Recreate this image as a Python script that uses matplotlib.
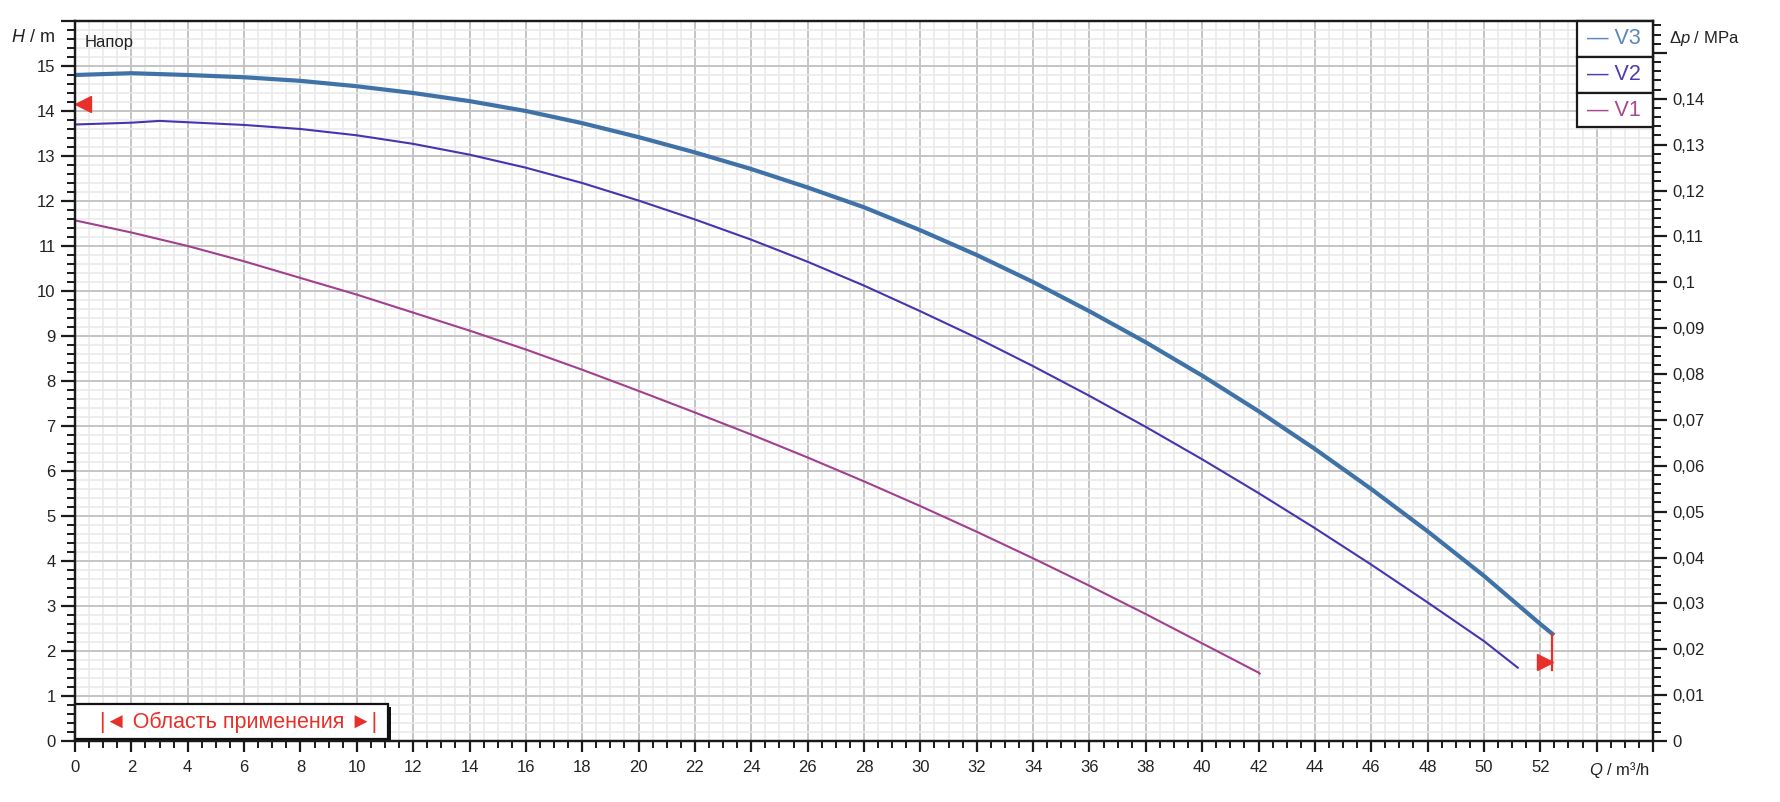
import numpy as np
import matplotlib
matplotlib.use("Agg")
import matplotlib.pyplot as plt
from matplotlib.patches import Rectangle
from matplotlib.ticker import MultipleLocator

plt.rcParams['font.family'] = ['Liberation Sans', 'DejaVu Sans']
plt.rcParams['mathtext.fontset'] = 'custom'
plt.rcParams['mathtext.it'] = 'Liberation Sans:italic'
plt.rcParams['mathtext.rm'] = 'Liberation Sans'

# ---- data (Q in m3/h, H in m) ----
q_v3 = [0, 2, 4, 6, 8, 10, 12, 14, 16, 18, 20, 22, 24, 26, 28, 30, 32, 34, 36,
        38, 40, 42, 44, 46, 48, 50, 52, 52.43]
h_v3 = [14.80, 14.84, 14.80, 14.75, 14.67, 14.55, 14.40, 14.22, 14.00, 13.73,
        13.42, 13.08, 12.71, 12.30, 11.86, 11.35, 10.80, 10.20, 9.55, 8.86,
        8.12, 7.33, 6.49, 5.60, 4.66, 3.67, 2.60, 2.38]

q_v2 = [0, 2, 3, 4, 6, 8, 10, 12, 14, 16, 18, 20, 22, 24, 26, 28, 30, 32, 34,
        36, 38, 40, 42, 44, 46, 48, 50, 51.2]
h_v2 = [13.70, 13.74, 13.78, 13.75, 13.69, 13.60, 13.46, 13.27, 13.03, 12.74,
        12.40, 12.01, 11.59, 11.14, 10.65, 10.12, 9.55, 8.96, 8.33, 7.67,
        6.98, 6.26, 5.51, 4.73, 3.92, 3.08, 2.22, 1.63]

q_v1 = [0, 2, 4, 6, 8, 10, 12, 14, 16, 18, 20, 22, 24, 26, 28, 30, 32, 34, 36,
        38, 40, 42, 42.04]
h_v1 = [11.57, 11.30, 11.00, 10.66, 10.29, 9.92, 9.52, 9.12, 8.70, 8.25, 7.78,
        7.30, 6.81, 6.30, 5.77, 5.22, 4.65, 4.06, 3.45, 2.82, 2.17, 1.52, 1.50]

series_names = ["V3", "V2", "V1"]
series_colors = ["#3f72a6", "#4a32b0", "#a0408f"]
legend_text_colors = ["#5a88bb", "#4c3cae", "#a8468f"]

# operating range markers
marker_h_left = 14.15
range_end_q = 52.43
range_end_h_top = 2.38
range_end_h_bottom = 1.58
marker_h_right = 1.75

x_tick_labels = [str(v) for v in range(0, 54, 2)]
h_tick_labels = [str(v) for v in range(0, 16)]
dp_tick_values = [round(0.01 * i, 2) for i in range(0, 16)]
dp_tick_labels = ["0", "0,01", "0,02", "0,03", "0,04", "0,05", "0,06", "0,07",
                  "0,08", "0,09", "0,1", "0,11", "0,12", "0,13", "0,14", ""]

RHO_G = 0.00981  # MPa per m of head

W, H = 1780, 802
fig = plt.figure(figsize=(W / 100, H / 100), dpi=100)
ax = fig.add_axes([75 / W, (H - 741) / H, (1653 - 75) / W, 720 / H])

ax.set_xlim(0, 56)
ax.set_ylim(0, 16)

ax.xaxis.set_minor_locator(MultipleLocator(0.5))
ax.yaxis.set_minor_locator(MultipleLocator(0.2))
ax.set_xticks(list(np.arange(0, 57, 2)))
ax.set_xticklabels(x_tick_labels + ["", ""])
ax.set_yticks(list(range(0, 17)))
ax.set_yticklabels(h_tick_labels + [""])

ax.grid(which='major', color='#c4c4c4', linewidth=1.4, zorder=0)
ax.grid(which='minor', color='#e8e8e8', linewidth=1.1, zorder=0)
ax.set_axisbelow(True)

for s in ax.spines.values():
    s.set_linewidth(1.6)
    s.set_color('#1a1a1a')

ax.tick_params(axis='x', which='major', direction='out', length=8, width=1.6,
               color='#1a1a1a', labelsize=12, pad=6, labelcolor='#222222')
ax.tick_params(axis='x', which='minor', direction='out', length=5, width=1.4,
               color='#1a1a1a')
ax.tick_params(axis='y', which='major', direction='out', length=10, width=1.6,
               color='#1a1a1a', labelsize=12, pad=4, labelcolor='#222222')
ax.tick_params(axis='y', which='minor', direction='out', length=5.5, width=1.4,
               color='#1a1a1a')

# curves
ax.plot(q_v3, h_v3, color=series_colors[0], linewidth=3.0, zorder=3,
        solid_joinstyle='round')
ax.plot(q_v2, h_v2, color=series_colors[1], linewidth=1.5, zorder=3,
        solid_joinstyle='round')
ax.plot(q_v1, h_v1, color=series_colors[2], linewidth=1.5, zorder=3,
        solid_joinstyle='round')

# red markers
red = '#e8302a'
ax.plot([0.28], [marker_h_left], marker='<', markersize=12, color=red,
        linestyle='none', zorder=4, clip_on=False)
ax.plot([range_end_q, range_end_q], [range_end_h_top, range_end_h_bottom],
        color=red, linewidth=1.6, zorder=4)
ax.plot([range_end_q - 0.28], [marker_h_right], marker='>', markersize=12,
        color=red, linestyle='none', zorder=4)

# right axis (pressure)
ax2 = ax.twinx()
ax2.set_ylim(0, 16 * RHO_G)
ax2.set_yticks(dp_tick_values)
ax2.set_yticklabels(dp_tick_labels)
ax2.yaxis.set_minor_locator(MultipleLocator(0.002))
ax2.tick_params(axis='y', which='major', direction='out', length=10, width=1.6,
                color='#1a1a1a', labelsize=12, pad=4, labelcolor='#222222')
ax2.tick_params(axis='y', which='minor', direction='out', length=5.5, width=1.4,
                color='#1a1a1a')
for s in ax2.spines.values():
    s.set_linewidth(1.6)
    s.set_color('#1a1a1a')

# axis labels
fig.text(55 / W, 1 - 37 / H, r"$H$ / m", ha='right', va='center', fontsize=13,
         color='#222222')
fig.text(1669 / W, 1 - 38 / H, r"Δ$p$ / MPa", ha='left', va='center',
         fontsize=12, color='#222222')
ax.text(54.8, -(770 - 741) / 45.0, r"$Q$ / m³/h", ha='center', va='center',
        fontsize=12, color='#222222', clip_on=False)

ax.text((85 - 75) / 1578, (741 - 42) / 720, "Напор", transform=ax.transAxes,
        ha='left', va='center', fontsize=12, color='#222222', zorder=6)

# legend boxes
box_top = [21, 57, 93]
box_bot = [57, 93, 127]
for i, name in enumerate(series_names):
    y0 = (741 - box_bot[i]) / 720
    y1 = (741 - box_top[i]) / 720
    ax.add_patch(Rectangle(((1577 - 75) / 1578, y0), 1 - (1577 - 75) / 1578,
                           y1 - y0, transform=ax.transAxes, facecolor='white',
                           edgecolor='#1a1a1a', linewidth=1.6, zorder=7,
                           clip_on=False))
    ax.text((1614 - 75) / 1578, (y0 + y1) / 2, "— " + name,
            transform=ax.transAxes, ha='center', va='center', fontsize=15.5,
            color=legend_text_colors[i], zorder=8)

# "Область применения" box
bx0, bx1 = 0.0, (388 - 75) / 1578
by0, by1 = (741 - 739) / 720, (741 - 704) / 720
ax.add_patch(Rectangle((bx0 + 0.0017, by0 - 0.0045), bx1 - bx0, by1 - by0,
                       transform=ax.transAxes, facecolor='#111111',
                       edgecolor='none', zorder=7, clip_on=False))
ax.add_patch(Rectangle((bx0, by0), bx1 - bx0, by1 - by0, transform=ax.transAxes,
                       facecolor='white', edgecolor='#111111', linewidth=1.6,
                       zorder=7.5, clip_on=False))
ax.text((239 - 75) / 1578, (741 - 722) / 720, "|◄ Область применения ►|",
        transform=ax.transAxes, ha='center', va='center', fontsize=15.5,
        color=red, zorder=8)

fig.savefig("out.png", dpi=100, facecolor='white')
